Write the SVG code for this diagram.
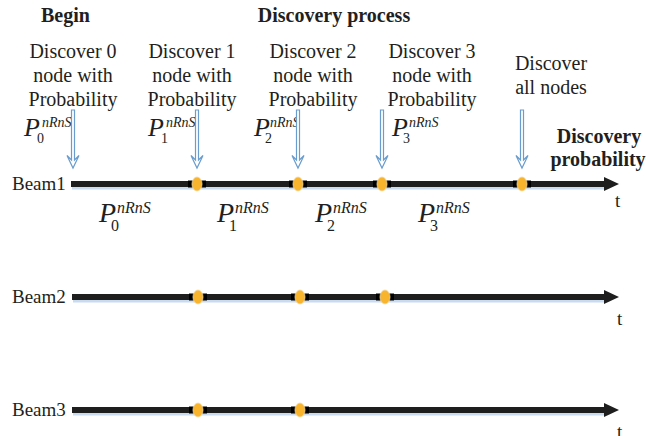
<svg xmlns="http://www.w3.org/2000/svg" width="646" height="436" viewBox="0 0 646 436" font-family="Liberation Serif, serif">
  <defs>
    <style>
      text { fill: #231f20; }
      .lbl { font-size: 20px; text-anchor: middle; }
      .bold { font-weight: bold; font-size: 20px; }
      .beam { font-size: 19px; }
      .pi { font-style: italic; }
      .shaft { stroke: #1e1e1e; stroke-width: 6; }
      .shadow { stroke: #c9dbef; stroke-width: 3; }
      .head { fill: #1e1e1e; }
      .dot { fill: #f7b42c; stroke: #f2d9a6; stroke-width: 0.8; }
      .tick { fill: #000; }
      .darr { fill: #ffffff; stroke: #6a9ccd; stroke-width: 1.2; stroke-linejoin: miter; }
    </style>
    <!-- hollow downward arrow pointing at a timeline -->
    <path id="down" class="darr" d="M-1.5,0 H1.5 V50 L6,45.5 L0,58 L-6,45.5 L-1.5,50 Z"/>
    <!-- discovery point on a timeline -->
    <g id="pt">
      <rect class="tick" x="-9" y="-3.5" width="18" height="7"/>
      <ellipse class="dot" cx="0" cy="0" rx="5" ry="7"/>
    </g>
  </defs>

  <!-- headings -->
  <g id="headings">
    <text class="bold" x="41" y="22">Begin</text>
    <text class="bold" x="334" y="22" text-anchor="middle">Discovery process</text>
    <text class="bold" x="599" y="143" text-anchor="middle">Discovery</text>
    <text class="bold" x="598" y="166" text-anchor="middle">probability</text>
  </g>

  <!-- event captions -->
  <g id="ev0">
    <text class="lbl" x="73" y="58">Discover 0</text>
    <text class="lbl" x="73" y="82">node with</text>
    <text class="lbl" x="73" y="106">Probability</text>
    <text x="24" y="136" font-size="26" class="pi">P</text>
    <text x="42" y="127" font-size="14" class="pi">nRnS</text>
    <text x="37" y="143" font-size="14">0</text>
  </g>
  <g id="ev1">
    <text class="lbl" x="192" y="58">Discover 1</text>
    <text class="lbl" x="192" y="82">node with</text>
    <text class="lbl" x="192" y="106">Probability</text>
    <text x="148" y="136" font-size="26" class="pi">P</text>
    <text x="166" y="127" font-size="14" class="pi">nRnS</text>
    <text x="161" y="143" font-size="14">1</text>
  </g>
  <g id="ev2">
    <text class="lbl" x="313" y="58">Discover 2</text>
    <text class="lbl" x="313" y="82">node with</text>
    <text class="lbl" x="313" y="106">Probability</text>
    <text x="254" y="136" font-size="26" class="pi">P</text>
    <text x="270" y="127" font-size="14" class="pi">nRnS</text>
    <text x="265" y="143" font-size="14">2</text>
  </g>
  <g id="ev3">
    <text class="lbl" x="432" y="58">Discover 3</text>
    <text class="lbl" x="432" y="82">node with</text>
    <text class="lbl" x="432" y="106">Probability</text>
    <text x="392" y="136" font-size="26" class="pi">P</text>
    <text x="409" y="127" font-size="14" class="pi">nRnS</text>
    <text x="403" y="143" font-size="14">3</text>
  </g>
  <g id="evAll">
    <text class="lbl" x="551" y="70">Discover</text>
    <text class="lbl" x="551" y="94">all nodes</text>
  </g>

  <!-- pointers onto Beam1 -->
  <g id="pointers">
    <use href="#down" x="73" y="110"/>
    <use href="#down" x="197" y="110"/>
    <use href="#down" x="298" y="110"/>
    <use href="#down" x="382" y="110"/>
    <use href="#down" x="522" y="110"/>
  </g>

  <!-- Beam1 timeline -->
  <g id="beam1">
    <text class="beam" x="12" y="190">Beam1</text>
    <line class="shadow" x1="72" y1="188" x2="606" y2="188"/>
    <line class="shaft" x1="71" y1="184" x2="607" y2="184"/>
    <polygon class="head" points="604,177 619,184 604,191"/>
    <use href="#pt" x="197" y="184"/>
    <use href="#pt" x="298" y="184"/>
    <use href="#pt" x="382" y="184"/>
    <use href="#pt" x="522" y="184"/>
    <text class="beam" x="615" y="207">t</text>
  </g>

  <!-- interval probabilities along Beam1 -->
  <g id="intervals">
    <text x="99" y="222" font-size="28" class="pi">P</text>
    <text x="117" y="213" font-size="16" class="pi">nRnS</text>
    <text x="111" y="231" font-size="16">0</text>
    <text x="217" y="222" font-size="28" class="pi">P</text>
    <text x="235" y="213" font-size="16" class="pi">nRnS</text>
    <text x="229" y="231" font-size="16">1</text>
    <text x="315" y="222" font-size="28" class="pi">P</text>
    <text x="333" y="213" font-size="16" class="pi">nRnS</text>
    <text x="327" y="231" font-size="16">2</text>
    <text x="418" y="222" font-size="28" class="pi">P</text>
    <text x="436" y="213" font-size="16" class="pi">nRnS</text>
    <text x="430" y="231" font-size="16">3</text>
  </g>

  <!-- Beam2 timeline -->
  <g id="beam2">
    <text class="beam" x="12" y="303">Beam2</text>
    <line class="shadow" x1="73" y1="301" x2="606" y2="301"/>
    <line class="shaft" x1="72" y1="297" x2="607" y2="297"/>
    <polygon class="head" points="604,290 619,297 604,304"/>
    <use href="#pt" x="198" y="297"/>
    <use href="#pt" x="300" y="297"/>
    <use href="#pt" x="385" y="297"/>
    <text class="beam" x="617" y="325">t</text>
  </g>

  <!-- Beam3 timeline -->
  <g id="beam3">
    <text class="beam" x="12" y="416">Beam3</text>
    <line class="shadow" x1="73" y1="414" x2="606" y2="414"/>
    <line class="shaft" x1="72" y1="410" x2="607" y2="410"/>
    <polygon class="head" points="604,403 619,410 604,417"/>
    <use href="#pt" x="198" y="410"/>
    <use href="#pt" x="300" y="410"/>
    <text class="beam" x="617" y="438">t</text>
  </g>
</svg>
